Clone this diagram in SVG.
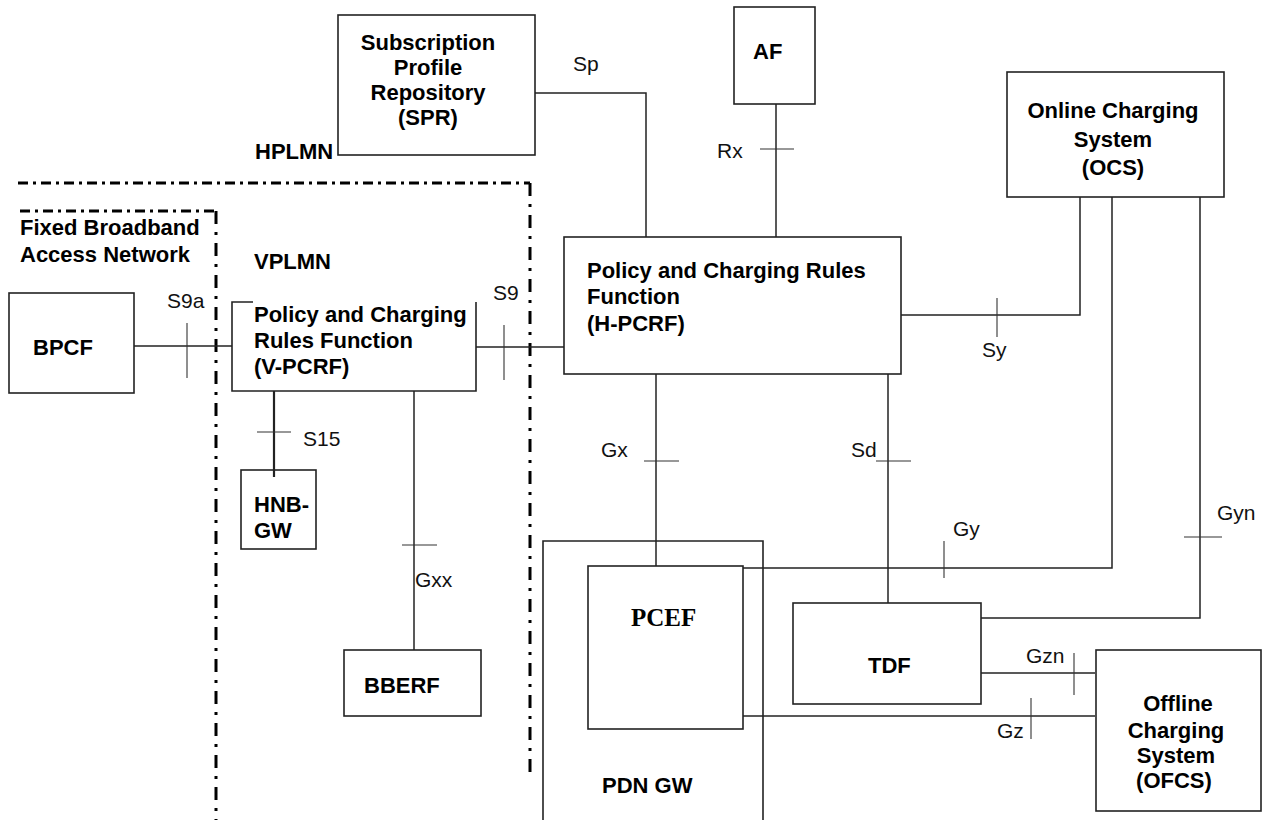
<svg xmlns="http://www.w3.org/2000/svg" width="1264" height="820" viewBox="0 0 1264 820">
<style>
.box{fill:#fff;stroke:#222;stroke-width:1.6}
.ln{fill:none;stroke:#222;stroke-width:1.5}
.tk{fill:none;stroke:#333;stroke-width:1.1}
.dh{fill:none;stroke:#000;stroke-width:3;stroke-dasharray:10 5 3 5}
.dv{fill:none;stroke:#000;stroke-width:3;stroke-dasharray:13 8 3 8}
.b{font-family:"Liberation Sans",Arial,sans-serif;font-weight:bold;font-size:22px;fill:#000}
.l{font-family:"Liberation Sans",Arial,sans-serif;font-size:21px;fill:#111}
.t{font-family:"Liberation Serif","Times New Roman",serif;font-weight:bold;font-size:25px;fill:#000}
.c{text-anchor:middle}
</style>
<rect width="1264" height="820" fill="#fff"/>
<g id="regions">
<path class="dh" d="M18,183 H530"/>
<path class="dv" d="M530,183 V778"/>
<path class="dh" d="M20,211 H216"/>
<path class="dv" d="M216,211 V820"/>
<text class="b" x="255" y="159">HPLMN</text>
<text class="b" x="20" y="235">Fixed Broadband</text>
<text class="b" x="20" y="262">Access Network</text>
<text class="b" x="254" y="269">VPLMN</text>
</g>
<g id="connectors">
<path class="ln" d="M535,93 H646 V237"/>
<path class="ln" d="M776,104 V237"/>
<path class="ln" d="M901,315 H1080 V197"/>
<path class="ln" d="M656,374 V566"/>
<path class="ln" d="M888,374 V603"/>
<path class="ln" d="M743,568 H1112 V197"/>
<path class="ln" d="M981,618 H1200 V197"/>
<path class="ln" d="M981,673 H1095"/>
<path class="ln" d="M738,716 H1095"/>
<path class="ln" d="M134,346 H232"/>
<path class="ln" d="M476,347 H564"/>
<path class="ln" d="M274,391 V477" style="stroke-width:2.2"/>
<path class="ln" d="M414,391 V650"/>
<path class="tk" d="M187,323 V378"/>
<path class="tk" d="M504,325 V380"/>
<path class="tk" d="M760,149 H794"/>
<path class="tk" d="M997,298 V337"/>
<path class="tk" d="M257,432 H291"/>
<path class="tk" d="M402,545 H437"/>
<path class="tk" d="M644,461 H679"/>
<path class="tk" d="M876,461 H911"/>
<path class="tk" d="M944,541 V578"/>
<path class="tk" d="M1184,537 H1222"/>
<path class="tk" d="M1074,653 V695"/>
<path class="tk" d="M1031,698 V739"/>
<text class="l" x="573" y="71">Sp</text>
<text class="l" x="717" y="158">Rx</text>
<text class="l" x="982" y="357">Sy</text>
<text class="l" x="167" y="308">S9a</text>
<text class="l" x="493" y="300">S9</text>
<text class="l" x="303" y="446">S15</text>
<text class="l" x="415" y="587">Gxx</text>
<text class="l" x="601" y="457">Gx</text>
<text class="l" x="851" y="457">Sd</text>
<text class="l" x="953" y="536">Gy</text>
<text class="l" x="1217" y="520">Gyn</text>
<text class="l" x="1026" y="663">Gzn</text>
<text class="l" x="997" y="738">Gz</text>
</g>
<g id="spr">
<rect class="box" x="338" y="15" width="197" height="140"/>
<text class="b c" x="428" y="50">Subscription</text>
<text class="b c" x="428" y="75">Profile</text>
<text class="b c" x="428" y="100">Repository</text>
<text class="b c" x="428" y="125">(SPR)</text>
</g>
<g id="af">
<rect class="box" x="734" y="7" width="81" height="97"/>
<text class="b" x="753" y="59">AF</text>
</g>
<g id="ocs">
<rect class="box" x="1007" y="72" width="217" height="125"/>
<text class="b c" x="1113" y="118">Online Charging</text>
<text class="b c" x="1113" y="147">System</text>
<text class="b c" x="1113" y="175">(OCS)</text>
</g>
<g id="hpcrf">
<rect class="box" x="564" y="237" width="337" height="137"/>
<text class="b" x="587" y="278">Policy and Charging Rules</text>
<text class="b" x="587" y="304">Function</text>
<text class="b" x="587" y="331">(H-PCRF)</text>
</g>
<g id="bpcf">
<rect class="box" x="9" y="293" width="125" height="100"/>
<text class="b" x="33" y="355">BPCF</text>
</g>
<g id="vpcrf">
<path class="ln" style="stroke-width:1.6" d="M253,302 H232 V391 H476 V302"/>
<text class="b" x="254" y="322">Policy and Charging</text>
<text class="b" x="254" y="348">Rules Function</text>
<text class="b" x="254" y="374">(V-PCRF)</text>
</g>
<g id="hnbgw">
<rect class="box" x="241" y="470" width="75" height="79"/>
<path class="ln" d="M274,470 V477" style="stroke-width:2.2"/>
<text class="b" x="254" y="512">HNB-</text>
<text class="b" x="254" y="538">GW</text>
</g>
<g id="bberf">
<rect class="box" x="344" y="650" width="137" height="66"/>
<text class="b" x="364" y="693">BBERF</text>
</g>
<g id="pdngw">
<path class="ln" style="stroke-width:1.6" d="M543,822 V541 H763 V822"/>
<text class="b" x="602" y="793">PDN GW</text>
</g>
<g id="pcef">
<rect class="box" x="588" y="566" width="155" height="163"/>
<text class="t" x="631" y="626">PCEF</text>
</g>
<g id="tdf">
<rect class="box" x="793" y="603" width="188" height="101"/>
<text class="b" x="868" y="673">TDF</text>
</g>
<g id="ofcs">
<rect class="box" x="1096" y="650" width="165" height="161"/>
<text class="b c" x="1178" y="711">Offline</text>
<text class="b c" x="1176" y="738">Charging</text>
<text class="b c" x="1176" y="763">System</text>
<text class="b c" x="1174" y="788">(OFCS)</text>
</g>
</svg>
